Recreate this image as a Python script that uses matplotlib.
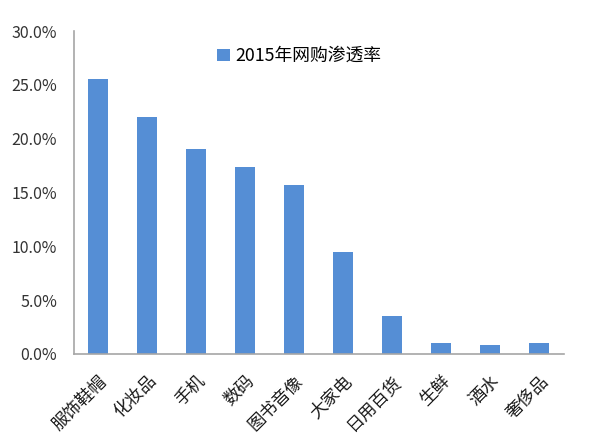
import matplotlib
matplotlib.use('Agg')
from matplotlib import pyplot as plt
from matplotlib.ticker import FuncFormatter

categories = ['服饰鞋帽', '化妆品', '手机', '数码', '图书音像', '大家电', '日用百货', '生鲜', '酒水', '奢侈品']
penetration = [0.255, 0.220, 0.190, 0.174, 0.157, 0.095, 0.035, 0.010, 0.008, 0.010]
series_name = '2015年网购渗透率'
y_ticks = [0.0, 0.05, 0.10, 0.15, 0.20, 0.25, 0.30]

plt.rcParams['font.family'] = ['Noto Sans CJK SC', 'DejaVu Sans']

fig = plt.figure(figsize=(6.05, 4.43), dpi=100)
ax = fig.add_axes([0.122, 0.201, 0.81, 0.729])

x = range(len(categories))
ax.bar(x, penetration, width=0.41, color='#558ED5', label=series_name, zorder=2)

ax.set_xlim(-0.5, len(categories) - 0.5)
ax.set_ylim(0, 0.30)
ax.set_yticks(y_ticks)
ax.yaxis.set_major_formatter(FuncFormatter(lambda v, p: '%.1f%%' % (v * 100)))
ax.set_xticks(list(x))
ax.set_xticklabels(categories, rotation=45, ha='right', rotation_mode='anchor',
                   fontsize=12.5, color='#1a1a1a')
ax.tick_params(axis='y', length=0, labelsize=11.5, labelcolor='#333333', pad=12)
ax.tick_params(axis='x', length=0, pad=13)

for side in ['top', 'right']:
    ax.spines[side].set_visible(False)
for side in ['left', 'bottom']:
    ax.spines[side].set_color('#a6a6a6')
    ax.spines[side].set_linewidth(1.2)

ax.legend(loc='upper center', bbox_to_anchor=(0.46, 1.0), frameon=False,
          fontsize=12.8, handlelength=0.7, handleheight=0.7, handletextpad=0.3)

fig.savefig('out.png', dpi=100)
